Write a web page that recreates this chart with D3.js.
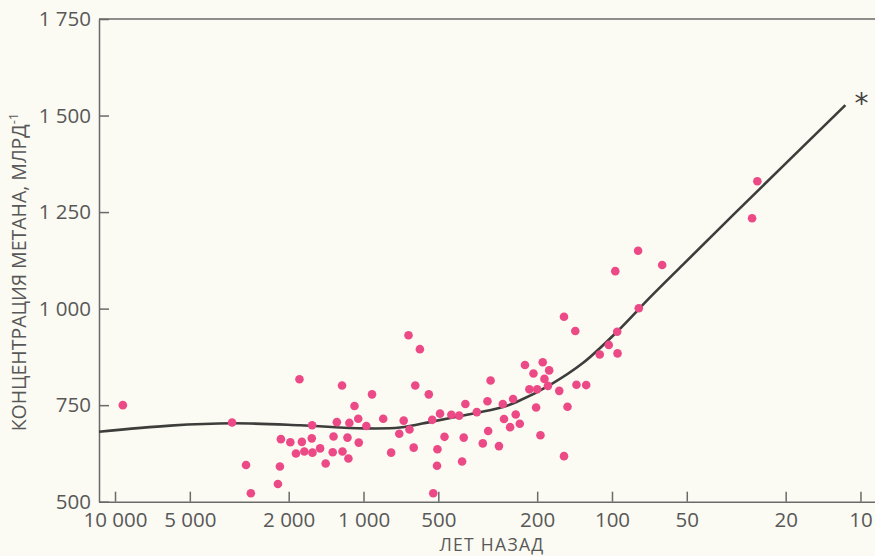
<!DOCTYPE html>
<html>
<head>
<meta charset="utf-8">
<script src="https://cdn.jsdelivr.net/npm/d3@7"></script>
<style>
  body { margin: 0; background: #fbfbf3; }
  svg { display: block; }
  .axis text { font-family: "Open Sans", sans-serif; font-size: 20.5px; fill: #585858; }
  .axis path, .axis line { stroke: #6a6a6a; stroke-width: 1.5; }
</style>
</head>
<body>
<div id="chart"></div>
<script>
var w = 875, h = 556;

// sample ages (years ago) and methane concentration
var years = [9300, 3380, 2970, 2840, 2210, 2170, 2150, 1970, 1870, 1810,
  1770, 1730, 1615, 1605, 1610, 1495, 1420, 1320, 1330, 1280,
  1220, 1215, 1160, 1150, 1140, 1087, 1050, 1045, 974, 924,
  833, 774, 718, 689, 653, 628, 659, 593, 619, 546,
  529, 504, 506, 524, 492, 472, 443, 412, 401, 395,
  389, 350, 331, 317, 315, 308, 285, 275, 272, 257,
  250, 244, 235, 224, 207, 215, 200, 202, 194, 190,
  179, 187, 181, 163, 151, 139, 127, 156, 140.5, 112,
  103, 95.3, 95, 78, 97, 78.5, 62.8, 156, 26, 27.3];
var conc = [750, 705, 595, 522, 546, 591, 662, 654, 625, 817,
  655, 630, 664, 627, 698, 638, 599, 669, 628, 706,
  801, 630, 666, 612, 704, 748, 715, 653, 696, 778,
  715, 627, 676, 710, 687, 640, 931, 895, 801, 778,
  712, 636, 593, 522, 728, 668, 725, 723, 604, 666,
  753, 732, 651, 760, 683, 814, 644, 753, 714, 693,
  766, 726, 702, 854, 832, 791, 791, 744, 672, 861,
  840, 818, 800, 787, 746, 803, 802, 979, 942, 881,
  906, 940, 884, 1001, 1097, 1150, 1113, 618, 1330, 1234];

// smoothed trend line
var curveYears = [11600, 6000, 3350, 1800, 1000, 713, 525, 383, 282, 241, 178, 131, 95.5, 70.3, 51.8, 32.6, 11.5];
var curveConc = [681, 697, 703, 698, 690, 692, 708, 725, 743, 759, 802, 859, 940, 1029, 1114, 1242, 1527];

var xTicks = [10000, 5000, 2000, 1000, 500, 200, 100, 50, 20, 10];
var yTicks = [500, 750, 1000, 1250, 1500, 1750];

var fmt = d3.formatLocale({decimal: ",", thousands: " ", grouping: [3], currency: ["", ""]}).format(",");

var svg = d3.select("#chart").append("svg")
  .attr("width", w)
  .attr("height", h);

svg.append("rect").attr("width", w).attr("height", h).style("fill", "#fbfbf3");

var x = d3.scaleLog().domain([11600, 8.74]).range([99, 875]);
var y = d3.scaleLinear().domain([500, 1750]).range([501.7, 19]);

svg.append("g")
  .attr("class", "axis")
  .attr("transform", "translate(0," + y(500) + ")")
  .call(d3.axisBottom(x).tickValues(xTicks).tickFormat(fmt).tickSizeInner(-10).tickSizeOuter(0).tickPadding(11));

svg.append("g")
  .attr("class", "axis")
  .attr("transform", "translate(" + x(11600) + ",0)")
  .call(d3.axisLeft(y).tickValues(yTicks).tickFormat(fmt).tickSizeInner(-10).tickSizeOuter(0).tickPadding(8));

// top frame line
svg.append("path")
  .attr("d", "M" + x(11600) + "," + y(1750) + "H" + w)
  .style("stroke", "#6a6a6a")
  .style("stroke-width", 1.5);

var line = d3.line()
  .x(function(d) { return x(d[0]); })
  .y(function(d) { return y(d[1]); })
  .curve(d3.curveCatmullRom.alpha(0.5));

var curveData = curveYears.map(function(v, i) { return [v, curveConc[i]]; });

svg.append("path")
  .datum(curveData)
  .attr("d", line)
  .style("fill", "none")
  .style("stroke", "#3d3d3b")
  .style("stroke-width", 2.6);

svg.selectAll(".dot")
  .data(years.map(function(v, i) { return [v, conc[i]]; }))
  .enter()
  .append("circle")
  .attr("class", "dot")
  .attr("cx", function(d) { return x(d[0]); })
  .attr("cy", function(d) { return y(d[1]); })
  .attr("r", 4.3)
  .style("fill", "#ec4a86");

var last = curveData[curveData.length - 1];
svg.append("text")
  .attr("x", x(last[0]) + 9)
  .attr("y", y(last[1]) + 8)
  .style("font-family", "DejaVu Sans, sans-serif")
  .style("font-size", "28px")
  .style("fill", "#444")
  .text("*");

svg.append("text")
  .attr("x", 492)
  .attr("y", 551)
  .attr("text-anchor", "middle")
  .style("font-family", "Open Sans, sans-serif")
  .style("font-size", "17.5px")
  .style("letter-spacing", "1.3px")
  .style("fill", "#585858")
  .text("ЛЕТ НАЗАД");

var title = svg.append("text")
  .attr("transform", "translate(26,272) rotate(-90)")
  .attr("text-anchor", "middle")
  .style("font-family", "Open Sans, sans-serif")
  .style("font-size", "19.5px")
  .style("fill", "#585858");
title.append("tspan").text("КОНЦЕНТРАЦИЯ МЕТАНА, МЛРД");
title.append("tspan").attr("dy", -8).style("font-size", "13px").text("-1");
</script>
</body>
</html>
